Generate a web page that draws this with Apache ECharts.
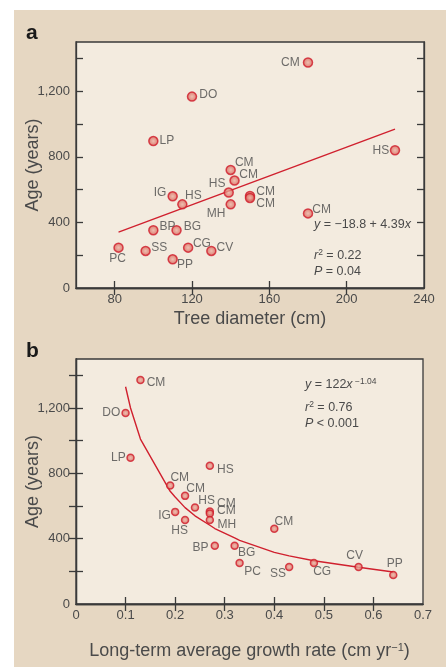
<!DOCTYPE html>
<html>
<head>
<meta charset="utf-8">
<script src="https://cdn.jsdelivr.net/npm/echarts@6/dist/echarts.min.js"></script>
<style>
  html, body { margin: 0; padding: 0; background: #fff; }
  #chart { width: 448px; height: 667px; }
</style>
</head>
<body>
<div id="chart"></div>
<script>
// panel a : age vs tree diameter
var namesA = ['CM','DO','LP','HS','CM','CM','HS','CM','CM','MH','IG','HS','CM','BP','BG','PC','SS','CG','CV','PP'];
var diameterA = [180,120,100,225,140,142,139,150,150,140,110,115,180,100,112,82,96,118,130,110];
var ageA = [1375,1167,896,840,720,655,582,561,549,510,559,510,455,352,352,246,226,246,226,175];
// linear fit drawn in the figure (end points)
var fitDiameterA = [82, 225];
var fitAgeA = [341, 969];

// panel b : age vs long-term growth rate
var namesB = ['CM','DO','LP','HS','CM','CM','HS','CM','CM','IG','HS','MH','CM','BP','BG','PC','SS','CG','CV','PP'];
var rateB = [0.13,0.10,0.11,0.27,0.19,0.22,0.24,0.27,0.27,0.20,0.22,0.27,0.40,0.28,0.32,0.33,0.43,0.48,0.57,0.64];
var ageB = [1371,1169,895,846,726,662,591,566,554,564,515,515,460,356,356,251,227,251,227,178];
// power-law curve
var fitRateB = [0.10,0.11,0.13,0.19,0.20,0.22,0.24,0.27,0.28,0.32,0.33,0.40,0.43,0.48,0.57,0.64];
var fitAgeB = [1330,1200,1010,690,655,590,540,482,462,405,390,316,295,265,225,196];

// tick labels
var diameterTicks = [80,120,160,200,240];
var rateTicks = [0,0.1,0.2,0.3,0.4,0.5,0.6,0.7];
var ageTicks = [0,400,800,1200];

var TXT = '#4a4a4a';
var AX = '#3a3a3a';
var RED = '#d0202e';
var FONT = 'Liberation Sans';

// where each point label sits: [position, dx, dy]
var placeA = [['left',-1,0],['right',0,-2],['right',-1,0],['left',1.5,0],['right',-3,-7],
  ['right',-2.5,-6],['left',4,-9],['right',-1,-4],['right',-1,6],['left',2,9],
  ['left',1,-4],['right',-4.5,-9],['right',-3,-4],['right',-1,-4],['right',0,-4],
  ['bottom',-1,-2.5],['right',-1.5,-3],['right',-2.5,-4],['right',-2,-3],['right',-3,5]];
var placeB = [['right',0,3],['left',1,0],['left',1.5,0],['right',1,4],['right',-6,-8],
  ['right',-5,-7],['right',-3,-7],['right',1,-8],['right',1,-3],['left',2,4],
  ['bottom',-5.5,-1],['right',1.5,5],['right',-6,-7],['left',0,2],['right',-3,7],
  ['right',-1.5,9],['left',3,7],['right',-7,9],['top',-4,1.5],['top',1.5,1]];

function pointData(xs, ys, names, place) {
  var out = [];
  for (var i = 0; i < xs.length; i++) {
    out.push({
      value: [xs[i], ys[i]],
      name: names[i],
      label: { position: place[i][0], offset: [place[i][1], place[i][2]] }
    });
  }
  return out;
}

function lineData(xs, ys) {
  var out = [];
  for (var i = 0; i < xs.length; i++) out.push([xs[i], ys[i]]);
  return out;
}

function ageLabel(v) {
  if (v >= 1000) return Math.floor(v / 1000) + ',' + String(v % 1000).padStart(3, '0');
  return String(v);
}

function markerStyle() {
  return {
    color: { type: 'radial', x: 0.5, y: 0.5, r: 0.5,
      colorStops: [{ offset: 0, color: '#ecb3a5' }, { offset: 1, color: '#d85a4f' }] },
    borderColor: '#cf1b2a',
    borderWidth: 1.5
  };
}

function tickStyle(values) {
  return { inside: true, length: 7, customValues: values, lineStyle: { color: AX, width: 1.3 } };
}

function xAxes(grid, min, max, labels, ticks, name, gap) {
  var line = { lineStyle: { color: AX, width: 1.3 } };
  return [{
    gridIndex: grid, type: 'value', min: min, max: max, position: 'bottom',
    axisLine: line, axisTick: tickStyle(ticks), splitLine: { show: false },
    axisLabel: { customValues: labels, fontSize: 13, color: TXT, fontFamily: FONT, margin: 5 },
    name: name, nameLocation: 'middle', nameGap: gap, nameMoveOverlap: false,
    nameTextStyle: { fontSize: 18, color: TXT, fontFamily: FONT,
      rich: { sup: { fontSize: 11, color: TXT, fontFamily: FONT, verticalAlign: 'top', padding: [0, 0, 8, 0] } } }
  }, {
    gridIndex: grid, type: 'value', min: min, max: max, position: 'top',
    axisLine: line, axisTick: tickStyle(ticks), splitLine: { show: false }, axisLabel: { show: false }
  }];
}

function yAxes(grid) {
  var line = { show: true, lineStyle: { color: AX, width: 1.3 } };
  var ticks = [200,400,600,800,1000,1200,1400];
  return [{
    gridIndex: grid, type: 'value', min: 0, max: 1500, position: 'left',
    axisLine: line, axisTick: tickStyle(ticks), splitLine: { show: false },
    axisLabel: { customValues: ageTicks, formatter: ageLabel, fontSize: 13, color: TXT, fontFamily: FONT, margin: 6 },
    name: 'Age (years)', nameLocation: 'middle', nameGap: 34, nameMoveOverlap: false,
    nameTextStyle: { fontSize: 18, color: TXT, fontFamily: FONT }
  }, {
    gridIndex: grid, type: 'value', min: 0, max: 1500, position: 'right',
    axisLine: line, axisTick: tickStyle(ticks), splitLine: { show: false },
    axisLabel: { show: false }
  }];
}

function scatterSeries(xi, yi, data, size) {
  return {
    type: 'scatter', xAxisIndex: xi, yAxisIndex: yi, z: 5,
    symbolSize: size, data: data, itemStyle: markerStyle(),
    label: { show: true, formatter: '{b}', fontSize: 12, color: TXT, fontFamily: FONT, distance: 2 }
  };
}

function fitSeries(xi, yi, data) {
  return {
    type: 'line', xAxisIndex: xi, yAxisIndex: yi, z: 2,
    showSymbol: false, data: data,
    lineStyle: { color: RED, width: 1.4 }
  };
}

function annot(x, y, text) {
  return {
    type: 'text', z: 10,
    style: {
      x: x, y: y, text: text, fill: TXT, font: '12.5px ' + FONT, verticalAlign: 'middle',
      rich: {
        i: { fontStyle: 'italic', fontSize: 12.5, fill: TXT, fontFamily: FONT },
        sup: { fontSize: 8.5, fill: TXT, fontFamily: FONT, verticalAlign: 'top', padding: [0, 0, 6, 0] }
      }
    }
  };
}

var option = {
  animation: false,
  backgroundColor: '#ffffff',
  grid: [
    { left: 76, top: 42, width: 348, height: 246, show: true, backgroundColor: '#f3ebdf', borderColor: AX, borderWidth: 1.3 },
    { left: 76, top: 359, width: 347, height: 245, show: true, backgroundColor: '#f3ebdf', borderColor: AX, borderWidth: 1.3 }
  ],
  xAxis: xAxes(0, 60, 240, diameterTicks, [80,120,160,200], 'Tree diameter (cm)', 22)
    .concat(xAxes(1, 0, 0.7, rateTicks, [0.1,0.2,0.3,0.4,0.5,0.6], 'Long-term average growth rate (cm yr{sup|−1})', 38)),
  yAxis: yAxes(0).concat(yAxes(1)),
  graphic: [
    { type: 'rect', z: -100, shape: { x: 14, y: 10, width: 432, height: 657 }, style: { fill: '#e6d7c2' } },
    { type: 'text', z: 10, style: { x: 26, y: 44, text: 'a', fill: '#1a1a1a', font: 'bold 21px ' + FONT, verticalAlign: 'bottom' } },
    { type: 'text', z: 10, style: { x: 26, y: 362, text: 'b', fill: '#1a1a1a', font: 'bold 21px ' + FONT, verticalAlign: 'bottom' } },
    annot(314, 225, '{i|y} = −18.8 + 4.39{i|x}'),
    annot(314, 256, '{i|r}{sup|2} = 0.22'),
    annot(314, 272, '{i|P} = 0.04'),
    annot(305, 385, '{i|y} = 122{i|x}{sup| −1.04}'),
    annot(305, 408, '{i|r}{sup|2} = 0.76'),
    annot(305, 424, '{i|P} < 0.001')
  ],
  series: [
    fitSeries(0, 0, lineData(fitDiameterA, fitAgeA)),
    scatterSeries(0, 0, pointData(diameterA, ageA, namesA, placeA), 9),
    fitSeries(2, 2, lineData(fitRateB, fitAgeB)),
    scatterSeries(2, 2, pointData(rateB, ageB, namesB, placeB), 7)
  ]
};

var myChart = echarts.init(document.getElementById('chart'));
myChart.setOption(option);
</script>
</body>
</html>
